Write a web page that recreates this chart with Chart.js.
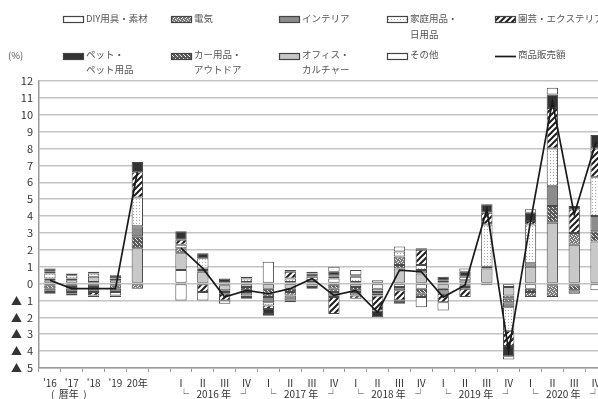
<!DOCTYPE html>
<html lang="ja">
<head>
<meta charset="utf-8">
<title>商品販売額の商品別寄与度</title>
<script src="https://cdn.jsdelivr.net/npm/chart.js@4.4.1/dist/chart.umd.min.js"></script>
<style>
  html, body { margin: 0; padding: 0; background: #fff; overflow: hidden; }
  #wrap { position: relative; width: 598px; height: 399px; overflow: hidden; }
  #chart { position: absolute; left: 0; top: 0; }
</style>
</head>
<body>
<div id="wrap"><canvas id="chart" width="610" height="399"></canvas></div>
<script>
const FONT = '"Noto Sans CJK JP", "Noto Sans", sans-serif';

// x categories: calendar years, a spacer, then quarters
const annualLabels = ["'16", "'17", "'18", "'19", '20年'];
const years = ['2016', '2017', '2018', '2019', '2020'];
const quarterLabels = ['Ⅰ', 'Ⅱ', 'Ⅲ', 'Ⅳ'];

// contribution by product group (%), null = spacer column
const diy      = [-0.1, 0.2, 0.1, -0.1, 0,   null, 0.8, 0,   -0.1, 0.1, 1.3, 0.1, 0.1, 0.3, 0.1, -0.3, -0.2, -0.3, 0.1, -0.1, -0.1, -0.2, -0.3, -0.1, -0.1, -0.4];
const office   = [0.2, 0.1, 0.3, 0.2, 2.1,   null, 1.0, 0.7, -0.3, -0.2, -0.3, -0.3, -0.2, 0.1, -0.2, -0.2, 0.9, 0.6, -0.3, 0.2, 0.9, -0.5, 1.0, 3.6, 2.3, 2.5];
const car      = [-0.2, -0.2, -0.2, -0.2, 0.7, null, 0, 0, -0.1, -0.2, -0.3, -0.2, -0.1, -0.3, -0.2, -0.1, 0.2, -0.3, -0.1, -0.1, 0, -0.2, -0.2, 1.0, -0.3, 0.6];
const denki    = [0.1, -0.1, -0.1, 0.1, -0.3,  null, 0.3, 0.1, 0, -0.1, -0.2, -0.2, 0, -0.2, -0.1, 0, 0.5, -0.2, 0, 0, 0, -0.2, -0.3, -0.7, 0.7, 0];
const interior = [-0.2, -0.2, -0.2, -0.2, 0.6, null, 0, 0.1, -0.1, -0.2, -0.3, -0.3, 0.1, -0.3, -0.2, -0.1, -0.2, 0.2, -0.2, -0.1, 0.1, -0.3, 0.2, 1.2, -0.2, 0.9];
const household= [0.3, 0.2, 0.2, -0.2, 1.7,  null, 0.2, 0.6, 0.1, 0.2, -0.2, 0.2, 0.2, 0.1, 0.3, 0, 0.3, 0.3, 0.1, 0.2, 2.5, -1.4, 2.3, 2.2, 0, 2.3];
const garden   = [0.1, -0.1, -0.2, -0.1, 1.5, null, 0.3, -0.5, -0.4, -0.1, -0.2, 0.4, 0, -1.0, -0.2, -0.9, -0.6, 0.9, -0.5, -0.5, 0.7, -0.9, 0.2, 2.4, 1.4, 1.7];
const pet      = [0.2, -0.1, -0.1, 0.2, 0.6,  null, 0.5, 0.3, 0.2, 0.1, -0.3, 0.1, 0.2, 0.2, 0.1, -0.4, -0.2, 0.1, 0.2, 0.3, 0.5, -0.6, 0.5, 0.8, 0.2, 0.8];
const other    = [-0.1, 0.1, 0.1, 0, 0,       null, -1.0, -0.5, -0.2, -0.1, -0.1, -0.1, 0.1, 0.3, 0.3, 0.2, 0.3, -0.6, -0.5, 0.2, 0, -0.2, 0.2, 0.4, 0, 0];

// 商品販売額 (前年同期比, %)
const sales = [0.2, -0.3, -0.3, -0.3, 6.6, null, 2.1, 0.9, -0.8, -0.4, -0.6, -0.3, 0.3, -0.7, -0.4, -1.7, 0.8, 0.7, -0.8, -0.1, 4.4, -4.0, 3.7, 10.8, 4.1, 8.4];

const yMin = -5;
const yMax = 12;

const categories = [...annualLabels, ''].concat(years.flatMap(() => quarterLabels));

const canvas = document.getElementById('chart');
const ctx = canvas.getContext('2d');

// small repeating tiles for the monochrome fills
function tile(size, paint) {
  const c = document.createElement('canvas');
  c.width = c.height = size;
  paint(c.getContext('2d'), size);
  return ctx.createPattern(c, 'repeat');
}

const hatch = tile(6, (g, s) => {
  g.fillStyle = '#fff';
  g.fillRect(0, 0, s, s);
  g.strokeStyle = '#1e1e1e';
  g.lineWidth = 2;
  g.beginPath();
  g.moveTo(-1, s + 1); g.lineTo(s + 1, -1);
  g.moveTo(-1, 1); g.lineTo(1, -1);
  g.moveTo(s - 1, s + 1); g.lineTo(s + 1, s - 1);
  g.stroke();
});

const dots = tile(3, g => {
  g.fillStyle = '#fff';
  g.fillRect(0, 0, 3, 3);
  g.fillStyle = '#a8a8a8';
  g.fillRect(1, 1, 1, 1);
});

const speckle = tile(4, g => {
  g.fillStyle = '#7a7a7a';
  g.fillRect(0, 0, 4, 4);
  g.fillStyle = '#eeeeee';
  [[0, 0], [2, 1], [1, 2], [3, 3]].forEach(([x, y]) => g.fillRect(x, y, 1, 1));
});

const speckleDark = tile(4, g => {
  g.fillStyle = '#5a5a5a';
  g.fillRect(0, 0, 4, 4);
  g.fillStyle = '#e6e6e6';
  [[1, 0], [3, 2], [0, 3]].forEach(([x, y]) => g.fillRect(x, y, 1, 1));
});

// stacking order, bottom to top
const series = [
  { key: 'diy',       lines: ['DIY用具・素材'],          data: diy,       fill: '#ffffff' },
  { key: 'office',    lines: ['オフィス・', 'カルチャー'], data: office,    fill: '#c8c8c8' },
  { key: 'car',       lines: ['カー用品・', 'アウトドア'], data: car,       fill: speckleDark },
  { key: 'denki',     lines: ['電気'],                   data: denki,     fill: speckle },
  { key: 'interior',  lines: ['インテリア'],              data: interior,  fill: '#8c8c8c' },
  { key: 'household', lines: ['家庭用品・', '日用品'],     data: household, fill: dots },
  { key: 'garden',    lines: ['園芸・エクステリア'],       data: garden,    fill: hatch },
  { key: 'pet',       lines: ['ペット・', 'ペット用品'],    data: pet,       fill: '#333333' },
  { key: 'other',     lines: ['その他'],                  data: other,     fill: '#ffffff' }
];

const legendOrder = ['diy', 'denki', 'interior', 'household', 'garden', 'pet', 'car', 'office', 'other', 'sales'];

const datasets = series.map(s => ({
  type: 'bar',
  label: s.lines.join(''),
  data: s.data,
  backgroundColor: s.fill,
  borderColor: '#4a4a4a',
  borderWidth: 1,
  borderSkipped: false,
  barPercentage: 0.52,
  categoryPercentage: 1.0,
  stack: 'groups',
  order: 1
}));

datasets.push({
  type: 'line',
  label: '商品販売額',
  data: sales,
  borderColor: '#1a1a1a',
  borderWidth: 1.7,
  pointRadius: 0,
  tension: 0,
  spanGaps: false,
  stack: 'sales',
  order: 0
});

// legend grid across the top
const legendPlugin = {
  id: 'gridLegend',
  afterDraw(chart) {
    const c = chart.ctx;
    c.save();
    c.font = '9.5px ' + FONT;
    c.textBaseline = 'middle';
    c.fillStyle = '#555';
    c.fillText('(%)', 8, 55);
    legendOrder.forEach((key, i) => {
      const col = i % 5, row = Math.floor(i / 5);
      const sx = 63 + col * 108;
      const sy = row ? 53 : 16;
      let lines;
      if (key === 'sales') {
        c.strokeStyle = '#1a1a1a';
        c.lineWidth = 1.7;
        c.beginPath();
        c.moveTo(sx, sy + 3.5);
        c.lineTo(sx + 21, sy + 3.5);
        c.stroke();
        lines = ['商品販売額'];
      } else {
        const s = series.find(d => d.key === key);
        c.fillStyle = s.fill;
        c.fillRect(sx, sy, 21, 7);
        c.strokeStyle = '#444';
        c.lineWidth = 1.2;
        c.strokeRect(sx + 0.5, sy + 0.5, 20, 6);
        lines = s.lines;
      }
      c.fillStyle = '#555';
      lines.forEach((t, k) => c.fillText(t, sx + 23, (row ? 54 : 18) + k * (row ? 15 : 16)));
    });
    c.restore();
  }
};

// second row of the x axis: (暦年) and └ 年 ┘ brackets
const periodPlugin = {
  id: 'periodRow',
  afterDraw(chart) {
    const x = chart.scales.x;
    const c = chart.ctx;
    const y = 394;
    c.save();
    c.font = '10px ' + FONT;
    c.textBaseline = 'middle';
    c.textAlign = 'center';
    c.fillStyle = '#333';
    c.fillText('(  暦年  )', (x.getPixelForValue(0) + x.getPixelForValue(2)) / 2 - 3, y);
    years.forEach((yr, i) => {
      const base = annualLabels.length + 1 + i * 4;
      c.fillText('└', x.getPixelForValue(base) + 3, y);
      c.fillText(yr + ' 年', (x.getPixelForValue(base + 1) + x.getPixelForValue(base + 2)) / 2, y);
      c.fillText('┘', x.getPixelForValue(base + 3) - 1, y);
    });
    c.restore();
  }
};

new Chart(canvas, {
  data: { labels: categories, datasets },
  options: {
    responsive: false,
    animation: false,
    layout: { padding: { top: 81, right: 3, left: 0, bottom: 0 } },
    plugins: {
      legend: { display: false },
      tooltip: { enabled: false }
    },
    scales: {
      x: {
        stacked: true,
        afterFit: scale => { scale.height = 31; },
        grid: {
          display: true,
          drawOnChartArea: false,
          drawTicks: true,
          tickLength: 4,
          offset: true,
          color: '#9a9a9a'
        },
        border: { display: true, color: '#9a9a9a', width: 1.5 },
        ticks: {
          autoSkip: false,
          maxRotation: 0,
          padding: 5,
          color: '#333',
          font: { family: FONT, size: 10 }
        }
      },
      y: {
        stacked: true,
        min: yMin,
        max: yMax,
        afterFit: scale => { scale.width = 39; },
        grid: { color: '#c4c4c4', lineWidth: 1.5, drawTicks: false },
        border: { display: true, color: '#9a9a9a', width: 1.5 },
        ticks: {
          stepSize: 1,
          padding: 6,
          color: '#333',
          font: { family: FONT, size: 11 },
          callback: v => v < 0 ? '▲  ' + (-v) : String(v)
        }
      }
    }
  },
  plugins: [legendPlugin, periodPlugin]
});
</script>
</body>
</html>
